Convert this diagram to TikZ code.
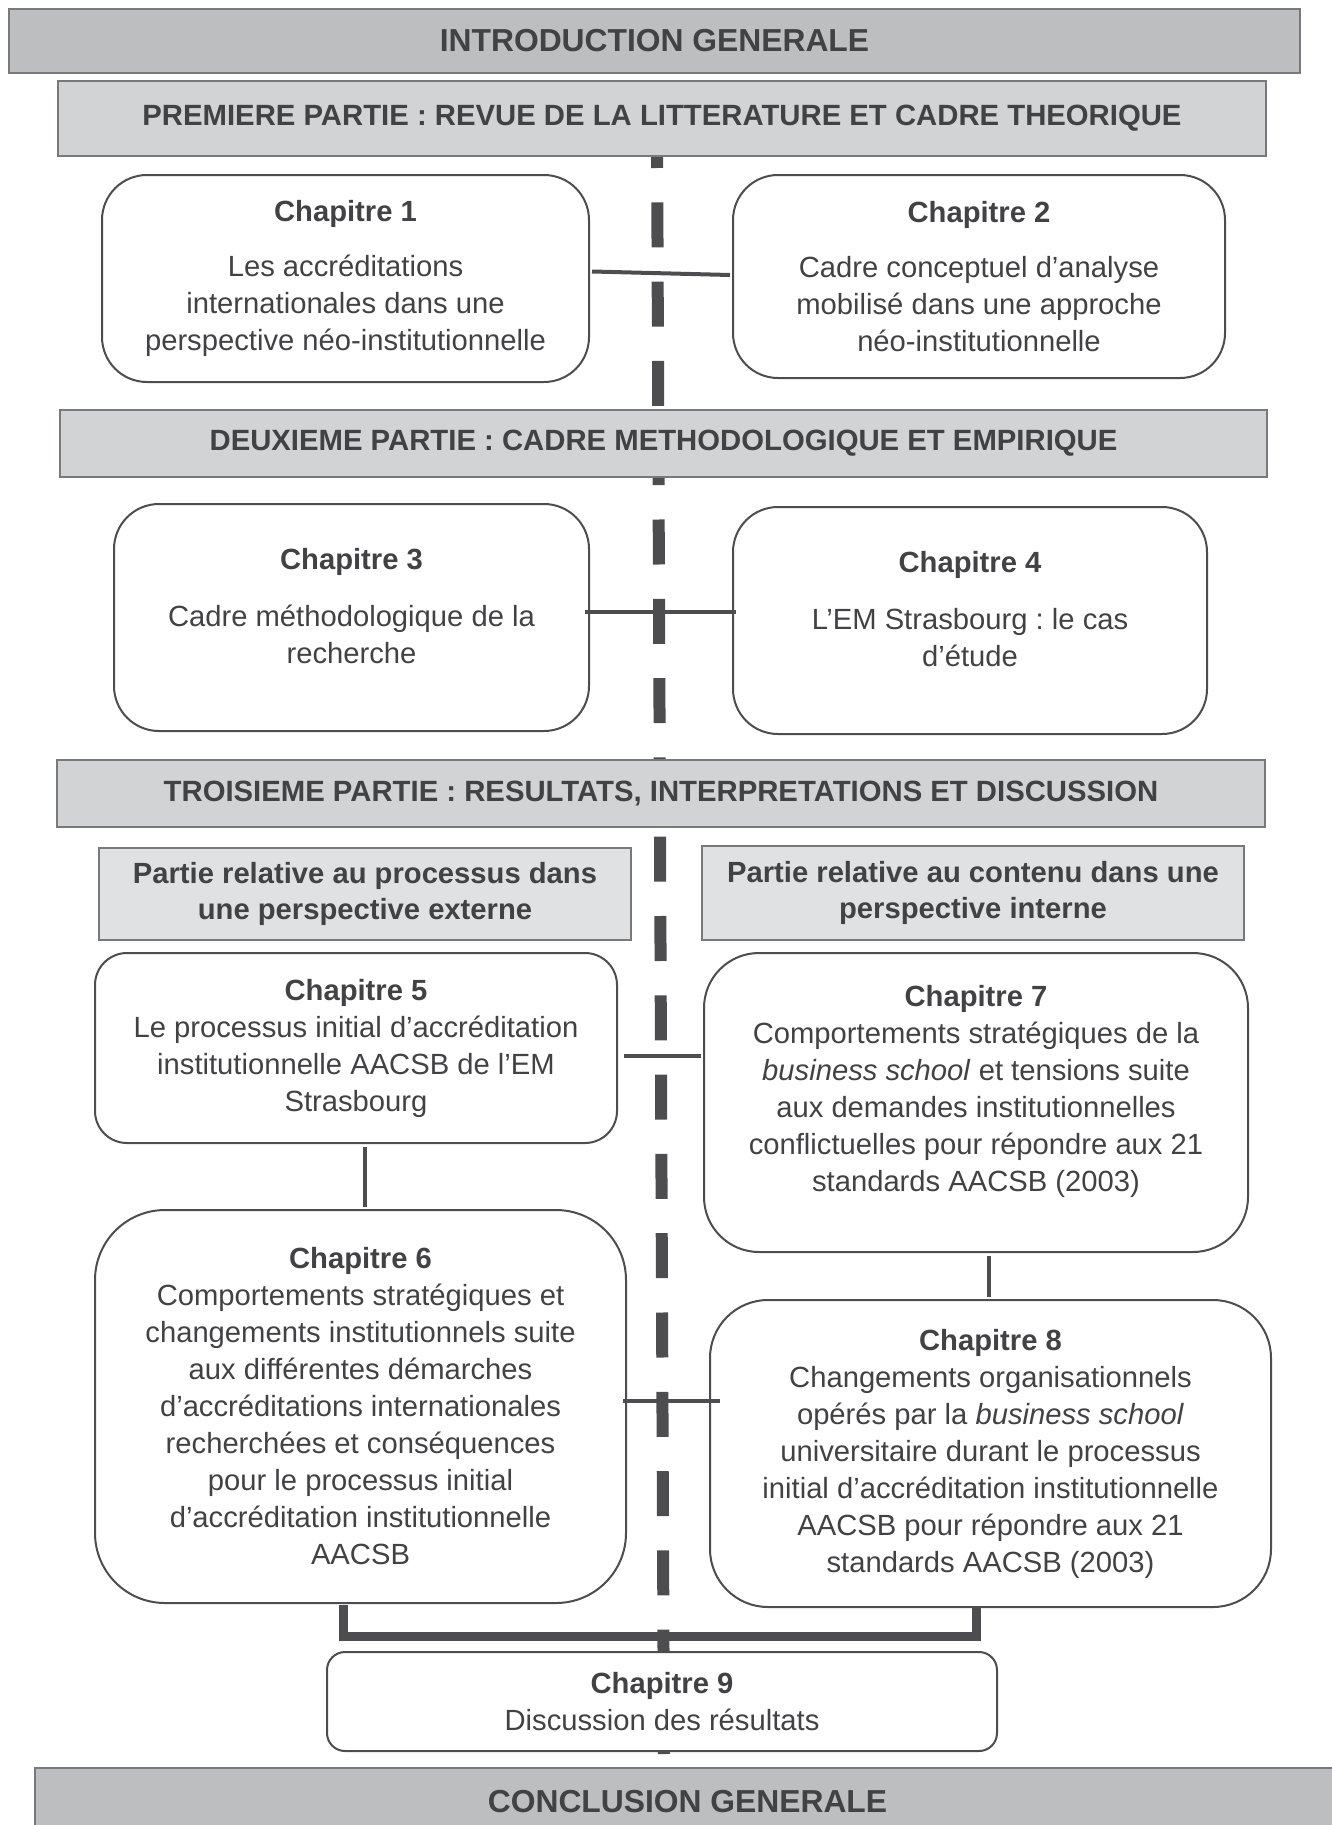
\documentclass[tikz,border=0pt]{standalone}
\usepackage{fontspec}
\setmainfont{Liberation Sans}
\usetikzlibrary{calc}
\frenchspacing

\definecolor{bargrey}{RGB}{188,190,192}
\definecolor{partgrey}{RGB}{209,211,212}
\definecolor{subgrey}{RGB}{224,225,226}
\definecolor{inkgrey}{RGB}{66,66,68}
\definecolor{linegrey}{RGB}{77,77,79}

% invisible depth under the last line, lifts the text in its box
\newcommand{\padbelow}[1]{\rule[-#1]{0pt}{#1}}

\tikzset{
  bigbar/.style={draw=linegrey!75, line width=2pt, fill=bargrey, text=inkgrey,
    font=\fontsize{31.8}{38}\selectfont\bfseries},
  partbar/.style={draw=linegrey!75, line width=2pt, fill=partgrey, text=inkgrey,
    font=\fontsize{29.3}{36}\selectfont\bfseries},
  subbar/.style={draw=linegrey!75, line width=2pt, fill=subgrey, text=inkgrey,
    align=center, font=\fontsize{29.2}{36}\selectfont\bfseries},
  chapbox/.style={draw=linegrey, line width=2pt, fill=white, text=inkgrey,
    rounded corners=#1, align=center, font=\fontsize{29.2}{37}\selectfont},
  chapbox/.default=45pt,
  link/.style={draw=linegrey, line width=4pt},
  mergeline/.style={draw=linegrey, line width=9pt, line cap=rect},
  spine/.style={draw=linegrey, line width=12pt, dash pattern=on 45pt off 34.3pt}
}

\begin{document}
\begin{tikzpicture}[x=1pt, y=-1pt]
    \useasboundingbox (0,0) rectangle (1331,1825);

    % Dashed spine behind everything
    \coordinate (spinetop) at (657,123);
    \coordinate (spinebot) at (664,1768);
    \draw[spine] (spinetop) -- (spinebot);

    % Parts
    \node[bigbar, minimum width=1291, minimum height=64] (intro) at (654.5,41) {INTRODUCTION GENERALE};
    \node[partbar, minimum width=1208, minimum height=75] (part1) at (662,118.5)
        {PREMIERE PARTIE : REVUE DE LA LITTERATURE ET CADRE THEORIQUE};
    \node[partbar, minimum width=1207, minimum height=67] (part2) at (663.5,443.5)
        {DEUXIEME PARTIE : CADRE METHODOLOGIQUE ET EMPIRIQUE};
    \node[partbar, minimum width=1208, minimum height=67] (part3) at (661,793.5)
        {TROISIEME PARTIE : RESULTATS, INTERPRETATIONS ET DISCUSSION};
    \node[subbar, minimum width=532, minimum height=92] (subext) at (365,894)
        {Partie relative au processus dans\\une perspective externe};
    \node[subbar, minimum width=542, minimum height=94] (subint) at (973,893)
        {Partie relative au contenu dans une\\perspective interne};
    \node[bigbar, minimum width=1305, minimum height=67] (concl) at (687.5,1801.5) {CONCLUSION GENERALE};

    % Chapters
    \node[chapbox, minimum width=487, minimum height=207] (ch1) at (345.5,278.5)
        {\textbf{Chapitre 1}\\[18pt]Les accréditations\\internationales dans une\\perspective néo-institutionnelle};
    \node[chapbox, minimum width=492, minimum height=203] (ch2) at (979,276.5)
        {\textbf{Chapitre 2}\\[18pt]Cadre conceptuel d’analyse\\mobilisé dans une approche\\néo-institutionnelle};
    \node[chapbox, minimum width=475, minimum height=227] (ch3) at (351.5,617.5)
        {\textbf{Chapitre 3}\\[20pt]Cadre méthodologique de la\\recherche\padbelow{23pt}};
    \node[chapbox, minimum width=474, minimum height=227] (ch4) at (970,620.5)
        {\textbf{Chapitre 4}\\[20pt]L’EM Strasbourg : le cas\\d’étude\padbelow{23pt}};
    \node[chapbox=32pt, minimum width=522, minimum height=190] (ch5) at (356,1048)
        {\textbf{Chapitre 5}\\Le processus initial d’accréditation\\institutionnelle AACSB de l’EM\\Strasbourg};
    \node[chapbox=55pt, minimum width=544, minimum height=299] (ch7) at (976,1102.5)
        {\textbf{Chapitre 7}\\Comportements stratégiques de la\\\textit{business school} et tensions suite\\aux demandes institutionnelles\\conflictuelles pour répondre aux 21\\standards AACSB (2003)\padbelow{29pt}};
    \node[chapbox=70pt, minimum width=531, minimum height=393] (ch6) at (360.5,1406.5)
        {\textbf{Chapitre 6}\\Comportements stratégiques et\\changements institutionnels suite\\aux différentes démarches\\d’accréditations internationales\\recherchées et conséquences\\pour le processus initial\\d’accréditation institutionnelle\\AACSB};
    \node[chapbox=58pt, minimum width=561, minimum height=307] (ch8) at (990.5,1453.5)
        {\textbf{Chapitre 8}\\Changements organisationnels\\opérés par la \textit{business school}\\universitaire durant le processus\\initial d’accréditation institutionnelle\\AACSB pour répondre aux 21\\standards AACSB (2003)};
    \node[chapbox=18pt, minimum width=670, minimum height=99] (ch9) at (662,1701.5)
        {\textbf{Chapitre 9}\\Discussion des résultats};

    % Links between chapters
    \draw[link] ($(ch1.east)+(2,-7)$) -- ($(ch2.west)+(-2,-1.5)$);
    \draw[link] ($(ch3.east)+(-5,-5.5)$) -- ($(ch3.east -| ch4.west)+(4,-5.5)$);
    \draw[link] ($(ch5.east)+(6,8)$) -- ($(ch5.east -| ch7.west)+(-2,8)$);
    \draw[link] ($(ch5.south)+(9,3)$) -- ($(ch5.south |- ch6.north)+(9,-2)$);
    \draw[link] ($(ch8.north)+(-1.5,-2)$) -- ($(ch8.north |- ch7.south)+(-1.5,3)$);
    \draw[link] ($(ch6.east)+(-4,-6)$) -- ($(ch6.east -| ch8.west)+(11,-6)$);

    % Bracket into chapter 9
    \draw[mergeline] ($(ch6.south)+(-17.5,5)$) |- ($(ch9.north)+(0,-15)$) -| ($(ch8.south)+(-14.5,3)$);
\end{tikzpicture}
\end{document}
